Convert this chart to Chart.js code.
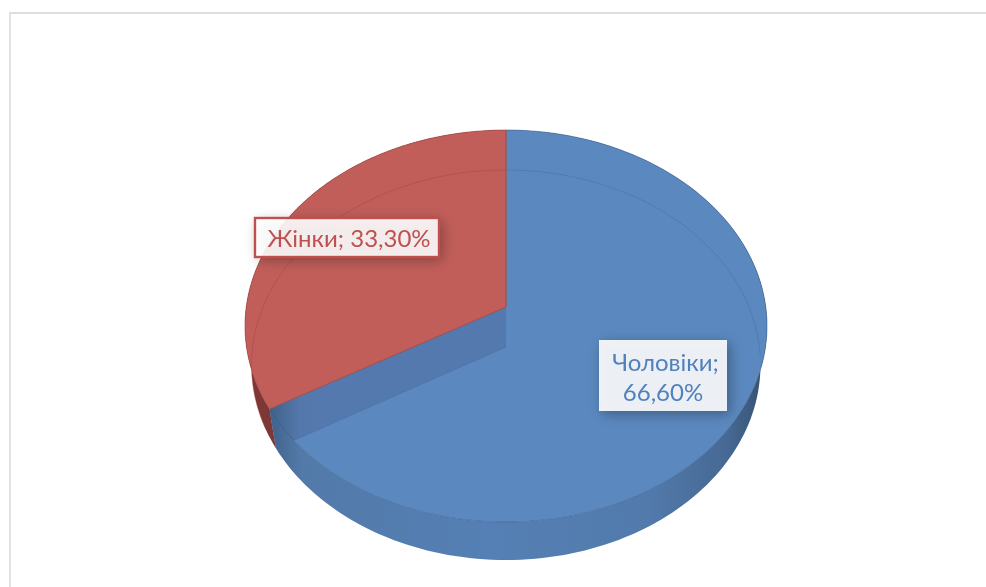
<!DOCTYPE html>
<html lang="uk">
<head>
<meta charset="utf-8">
<style>
html,body{margin:0;padding:0;background:#fff;width:986px;height:587px;overflow:hidden}
#frame{position:absolute;left:9px;top:12px;width:977px;height:575px;border-top:2px solid #dedede;border-left:2px solid #e2e2e2;box-sizing:border-box}
#wrap{position:absolute;left:0;top:0;width:986px;height:587px}
</style>
</head>
<body>
<div id="frame"></div>
<div id="wrap"><canvas id="c" width="986" height="587"></canvas></div>
<script src="https://cdn.jsdelivr.net/npm/chart.js@4/dist/chart.umd.js"></script>
<script>
const categories = ['Чоловіки', 'Жінки'];
const shares = [66.6, 33.3];
const sliceColors = ['#5b89bf', '#c15e5a'];
const labelColors = ['#4f81bd', '#c0504d'];

const FONT = '24px Lato, "Open Sans", sans-serif';

function projector(el, apexShift, hScale, near, far) {
  const k = -(near - far) / (near + far);
  const A = near * (1 + k);
  const B = el.outerRadius * hScale * Math.sqrt(1 - k * k);
  const ay = el.y + apexShift;
  return a => {
    const u = Math.cos(a), v = Math.sin(a), d = 1 + k * v;
    return { x: el.x + B * u / d, y: ay + A * v / d };
  };
}
const topFace = el => projector(el, -19, 1, 215, 177);
const baseFace = el => projector(el, 21, 0.975, 213, 177);

function tracePts(ctx, p, a0, a1, move) {
  const n = 160;
  for (let i = 0; i <= n; i++) {
    const q = p(a0 + (a1 - a0) * i / n);
    if (i === 0 && move) ctx.moveTo(q.x, q.y); else ctx.lineTo(q.x, q.y);
  }
}

const pie3d = {
  id: 'pie3d',
  beforeDatasetsDraw(chart) {
    const ctx = chart.ctx;
    const arcs = chart.getDatasetMeta(0).data;
    const [blue, red] = arcs;
    ctx.save();

    // outer side walls
    const sideStops = [
      [red, [[0, '#7d3836'], [1, '#a54c49']]],
      [blue, [[0, '#3f6188'], [0.07, '#527aa9'], [0.45, '#5580b5'], [0.76, '#527aab'], [0.92, '#466994'], [1, '#35506f']]]
    ];
    sideStops.forEach(([el, stops]) => {
      const t = topFace(el), b = baseFace(el);
      const g = ctx.createLinearGradient(el.x - 240, 0, el.x + 261, 0);
      stops.forEach(s => g.addColorStop(s[0], s[1]));
      ctx.beginPath();
      tracePts(ctx, t, el.startAngle, el.endAngle, true);
      tracePts(ctx, b, el.endAngle, el.startAngle, false);
      ctx.closePath();
      ctx.fillStyle = g;
      ctx.fill();
    });

    // top faces
    arcs.forEach(el => {
      const t = topFace(el);
      ctx.beginPath();
      ctx.moveTo(el.x, el.y - 19);
      tracePts(ctx, t, el.startAngle, el.endAngle, false);
      ctx.closePath();
      ctx.fillStyle = el.options.backgroundColor;
      ctx.fill();
    });

    // see-through base rim
    arcs.forEach((el, i) => {
      const b = baseFace(el);
      ctx.beginPath();
      const s = i === 0 ? el.startAngle : el.startAngle + 0.1;
      const e = i === 0 ? el.startAngle + 1.62 : el.endAngle;
      tracePts(ctx, b, s, e, true);
      ctx.lineWidth = 0.9;
      ctx.strokeStyle = i === 0 ? 'rgba(60,100,150,0.4)' : 'rgba(160,65,62,0.45)';
      ctx.stroke();
    });

    // inner cut wall seen through the blue slice
    {
      const el = blue, t = topFace(el), b = baseFace(el);
      const pt = t(el.endAngle), pb = b(el.endAngle);
      ctx.beginPath();
      ctx.moveTo(el.x, el.y - 19);
      ctx.lineTo(pt.x, pt.y);
      ctx.lineTo(pb.x, pb.y);
      ctx.lineTo(el.x, el.y + 21);
      ctx.closePath();
      const g = ctx.createLinearGradient(pt.x, 0, pt.x + 60, 0);
      g.addColorStop(0, '#3f6189');
      g.addColorStop(0.5, '#5478ab');
      g.addColorStop(1, '#5479af');
      ctx.fillStyle = g;
      ctx.fill();
      ctx.save();
      ctx.beginPath();
      tracePts(ctx, t, el.endAngle, el.startAngle, true);
      ctx.closePath();
      ctx.clip();
      ctx.beginPath();
      ctx.moveTo(pb.x, pb.y);
      ctx.lineTo(el.x, el.y + 21);
      ctx.strokeStyle = 'rgba(70,105,155,0.5)';
      ctx.lineWidth = 0.8;
      ctx.stroke();
      ctx.restore();
    }

    // slice edges
    arcs.forEach((el, i) => {
      const t = topFace(el);
      ctx.beginPath();
      tracePts(ctx, t, el.startAngle, el.endAngle, true);
      ctx.lineWidth = 0.9;
      ctx.strokeStyle = i === 0 ? 'rgba(55,90,135,0.6)' : 'rgba(150,60,58,0.6)';
      ctx.stroke();
    });
    {
      const el = red, t = topFace(el), p = t(el.startAngle);
      ctx.beginPath();
      ctx.moveTo(p.x, p.y);
      ctx.lineTo(el.x, el.y - 19);
      ctx.strokeStyle = '#a04c4a';
      ctx.lineWidth = 1;
      ctx.stroke();
      ctx.beginPath();
      ctx.moveTo(el.x, el.y - 196);
      ctx.lineTo(el.x, el.y - 19);
      ctx.strokeStyle = '#a24f4c';
      ctx.lineWidth = 1.2;
      ctx.stroke();
    }
    ctx.restore();
    return false;
  },
  afterDraw(chart) {
    const ctx = chart.ctx;
    const boxes = [
      { i: 0, x: 599, y: 340, w: 128, h: 71, border: null,
        lines: [[categories[0] + ';', 665.5, 371], [pct(shares[0]), 663, 401]] },
      { i: 1, x: 255, y: 218, w: 184, h: 39, border: labelColors[1],
        lines: [[categories[1] + '; ' + pct(shares[1]), 349, 247]] }
    ];
    boxes.forEach(b => {
      ctx.save();
      ctx.shadowColor = 'rgba(0,0,0,0.35)';
      ctx.shadowBlur = 12;
      ctx.shadowOffsetX = 3;
      ctx.shadowOffsetY = 3;
      ctx.fillStyle = '#ffffff';
      ctx.globalAlpha = 0.9;
      ctx.fillRect(b.x, b.y, b.w, b.h);
      ctx.restore();
      if (b.border) {
        ctx.strokeStyle = b.border;
        ctx.lineWidth = 2.4;
        ctx.strokeRect(b.x, b.y, b.w, b.h);
      }
      ctx.fillStyle = labelColors[b.i];
      ctx.font = FONT;
      ctx.textAlign = 'center';
      ctx.textBaseline = 'alphabetic';
      b.lines.forEach(l => ctx.fillText(l[0], l[1], l[2]));
    });
  }
};

function pct(v) { return v.toFixed(2).replace('.', ',') + '%'; }

new Chart(document.getElementById('c'), {
  type: 'pie',
  data: {
    labels: categories,
    datasets: [{ data: shares, backgroundColor: sliceColors, borderWidth: 0 }]
  },
  options: {
    responsive: false,
    animation: false,
    layout: { padding: { left: 26, top: 65, right: 0, bottom: 0 } },
    plugins: { legend: { display: false }, title: { display: false }, tooltip: { enabled: false } }
  },
  plugins: [pie3d]
});
</script>
</body>
</html>
